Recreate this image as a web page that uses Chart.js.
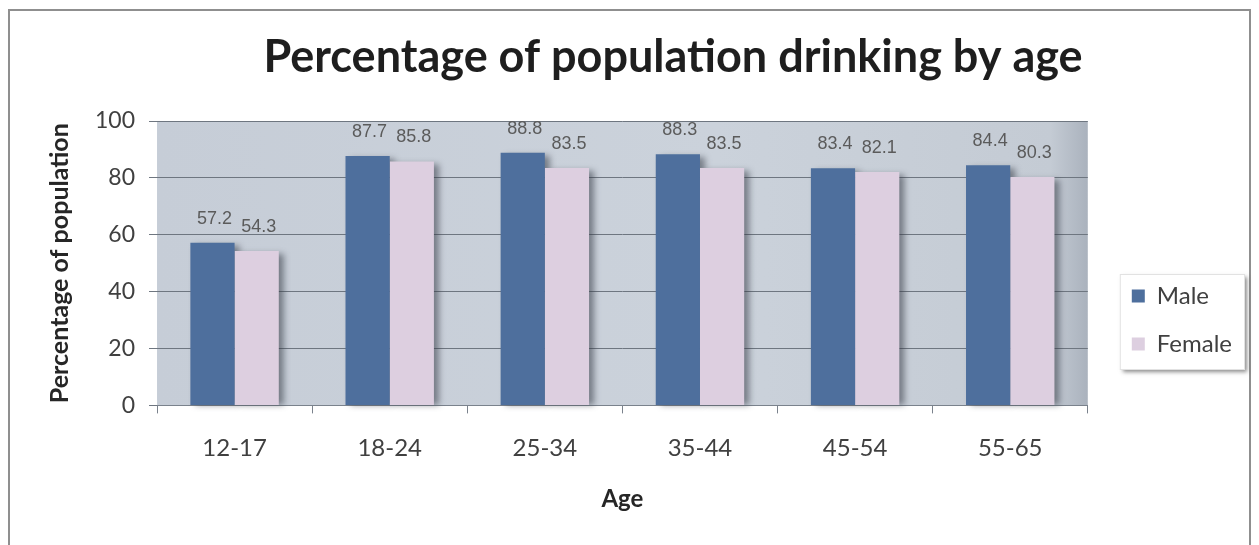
<!DOCTYPE html>
<html>
<head>
<meta charset="utf-8">
<title>Percentage of population drinking by age</title>
<script src="https://cdn.jsdelivr.net/npm/chart.js@4.4.1/dist/chart.umd.min.js"></script>
<style>
    html, body { margin: 0; padding: 0; background: #fff; overflow: hidden; }
    #frame { position: absolute; left: 8px; top: 9px; width: 1243px; height: 600px; border: 2px solid #8f8f8f; box-sizing: border-box; }
    #wrap { position: absolute; left: 0; top: 0; width: 1259px; height: 545px; }
</style>
</head>
<body>
<div id="frame"></div>
<div id="wrap"><canvas id="myChart"></canvas></div>
<script>
'use strict';
let ageGroups = ['12-17', '18-24', '25-34', '35-44', '45-54', '55-65'];
let maleValues = [57.2, 87.7, 88.8, 88.3, 83.4, 84.4];
let femaleValues = [54.3, 85.8, 83.5, 83.5, 82.1, 80.3];
let yMin = 0;
let yMax = 100;
let yStep = 20;

let maleColor = '#4e6f9d';
let femaleColor = '#ddcfe0';

// gradient behind the bars, bar shadows and the boxed legend
let plotDecor = {
    id: 'plotDecor',
    afterLayout(chart) {
        // original legend sits lower/further right and the title a bit to the right
        chart.legend.top += 51;
        chart.legend.bottom += 51;
        chart.legend.left += 20;
        chart.legend.right += 20;
        chart.titleBlock.left += 82;
    },
    beforeDraw(chart) {
        let ctx = chart.ctx;
        let a = chart.chartArea;
        ctx.save();
        let g = ctx.createLinearGradient(a.left, 0, a.right, 0);
        g.addColorStop(0, '#c6cdd7');
        g.addColorStop(0.6, '#cbd2db');
        g.addColorStop(0.96, '#c4cbd4');
        g.addColorStop(1, '#aab2bd');
        ctx.fillStyle = g;
        ctx.fillRect(a.left, a.top, a.right - a.left, a.bottom - a.top);

        // legend frame
        let boxes = chart.legend.legendHitBoxes;
        if (boxes && boxes.length) {
            let left = Math.min(...boxes.map(b => b.left)) - 12;
            let top = Math.min(...boxes.map(b => b.top)) - 10;
            let right = Math.max(...boxes.map(b => b.left + b.width)) + 12;
            let bottom = Math.max(...boxes.map(b => b.top + b.height)) + 13;
            ctx.shadowColor = 'rgba(0,0,0,0.45)';
            ctx.shadowBlur = 4;
            ctx.shadowOffsetX = 3;
            ctx.shadowOffsetY = 3;
            ctx.fillStyle = '#ffffff';
            ctx.fillRect(left, top, right - left, bottom - top);
            ctx.shadowColor = 'transparent';
            ctx.strokeStyle = '#e2e2e2';
            ctx.lineWidth = 1;
            ctx.strokeRect(left + 0.5, top + 0.5, right - left, bottom - top);
        }
        ctx.restore();
    },
    beforeDatasetsDraw(chart) {
        let ctx = chart.ctx;
        ctx.save();
        ctx.filter = 'blur(3px)';
        ctx.fillStyle = 'rgba(50,55,65,0.55)';
        chart.data.datasets.forEach((ds, i) => {
            chart.getDatasetMeta(i).data.forEach(bar => {
                let p = bar.getProps(['x', 'y', 'base', 'width'], true);
                ctx.fillRect(p.x - p.width / 2 + 5, p.y + 3, p.width, p.base - p.y - 3);
            });
        });
        ctx.restore();
    },
    afterDatasetsDraw(chart) {
        let ctx = chart.ctx;
        ctx.save();
        ctx.font = '18px "Liberation Sans", Arial, sans-serif';
        ctx.fillStyle = '#5b5b5b';
        ctx.textAlign = 'center';
        ctx.textBaseline = 'middle';
        chart.data.datasets.forEach((ds, i) => {
            chart.getDatasetMeta(i).data.forEach((bar, j) => {
                let p = bar.getProps(['x', 'y'], true);
                ctx.fillText(ds.data[j].toFixed(1), p.x + 2, p.y - 24);
            });
        });
        ctx.restore();
    }
};

let ctx = document.getElementById('myChart').getContext('2d');
let myChart = new Chart(ctx, {
    type: 'bar',
    data: {
        labels: ageGroups,
        datasets: [{
            label: 'Male',
            data: maleValues,
            backgroundColor: maleColor,
            borderWidth: 0,
            categoryPercentage: 0.57,
            barPercentage: 1.0
        }, {
            label: 'Female',
            data: femaleValues,
            backgroundColor: femaleColor,
            borderWidth: 0,
            categoryPercentage: 0.57,
            barPercentage: 1.0
        }]
    },
    options: {
        responsive: true,
        maintainAspectRatio: false,
        animation: false,
        layout: {
            padding: { left: 42, right: 37, top: 20, bottom: 27 }
        },
        plugins: {
            title: {
                display: true,
                text: 'Percentage of population drinking by age',
                color: '#1e1e1e',
                font: { family: 'Lato', size: 45, weight: 'bold' },
                padding: { top: 10, bottom: 37 }
            },
            legend: {
                position: 'right',
                labels: {
                    color: '#404040',
                    font: { family: 'Lato', size: 24 },
                    boxWidth: 13,
                    boxHeight: 13,
                    padding: 24
                }
            },
            tooltip: { enabled: false }
        },
        scales: {
            x: {
                grid: {
                    display: true,
                    drawOnChartArea: false,
                    offset: true,
                    color: '#7a828c',
                    tickLength: 8
                },
                border: { display: true, color: '#7a828c' },
                ticks: {
                    color: '#404040',
                    padding: 20,
                    font: { family: 'Lato', size: 24 }
                },
                title: {
                    display: true,
                    text: 'Age',
                    color: '#262626',
                    font: { family: 'Lato', size: 24, weight: 'bold' },
                    padding: { top: 3, bottom: 4 }
                }
            },
            y: {
                min: yMin,
                max: yMax,
                ticks: {
                    stepSize: yStep,
                    color: '#404040',
                    padding: 14,
                    font: { family: 'Lato', size: 23 }
                },
                grid: {
                    color: '#6e7680',
                    tickLength: 8
                },
                border: { display: false },
                title: {
                    display: true,
                    text: 'Percentage of population',
                    color: '#262626',
                    font: { family: 'Lato', size: 25, weight: 'bold' },
                    padding: { top: 3, bottom: 6 }
                }
            }
        }
    },
    plugins: [plotDecor]
});
</script>
</body>
</html>
